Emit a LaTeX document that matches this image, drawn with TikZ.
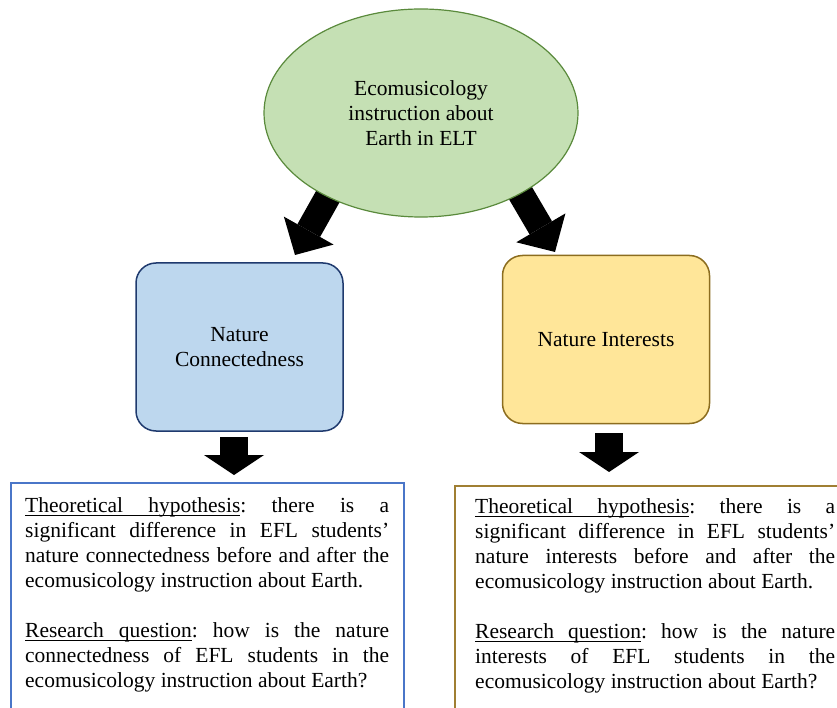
\documentclass[tikz,border=0pt]{standalone}
\usepackage{fontspec}
\setmainfont{Liberation Serif}
\usetikzlibrary{shapes.geometric,arrows.meta,backgrounds}
\definecolor{ellfill}{HTML}{C5E0B4}
\definecolor{elldraw}{HTML}{5A8A3C}
\definecolor{ncfill}{HTML}{BDD7EE}
\definecolor{ncdraw}{HTML}{1F3A6E}
\definecolor{nifill}{HTML}{FFE699}
\definecolor{nidraw}{HTML}{8C6D1F}
\definecolor{hypblue}{HTML}{4A76C8}
\definecolor{hypgold}{HTML}{A07F33}
\frenchspacing
% underlined word and stretchable underlined space
\newcommand\ulword[1]{\leavevmode\setbox0\hbox{#1}\rlap{\rule[-3.6pt]{\wd0}{0.9pt}}\box0}
\newcommand\ulgap{\leaders\hrule height -2.7pt depth 3.6pt\hskip\fontdimen2\font plus\fontdimen3\font minus\fontdimen4\font}

\begin{document}
\begin{tikzpicture}[x=1pt,y=-1pt,font=\fontsize{21.5}{25}\selectfont\frenchspacing]
	\tikzstyle{ell}=[ellipse,draw=elldraw,fill=ellfill,line width=1.2pt,minimum width=314pt,minimum height=208pt,align=center]
	\tikzstyle{box}=[rectangle,rounded corners=20pt,line width=1.5pt,minimum width=207pt,minimum height=168pt,align=center]
	\tikzstyle{txt}=[anchor=north west,text width=364pt,align=justify,inner sep=0pt]
	\tikzstyle{slant}=[line width=26pt,-{Triangle[width=57pt,length=28pt,line width=0pt]}]
	\tikzstyle{down}=[line width=28pt,-{Triangle[width=60pt,length=20pt,line width=0pt]}]

	\useasboundingbox (0,0) rectangle (837,708);
	\clip (0,0) rectangle (837,708);

	\node [ell] (topic) at (421,113) {Ecomusicology\\instruction about\\Earth in ELT};
	\node [box,draw=ncdraw,fill=ncfill] (nc) at (239.5,347) {Nature\\Connectedness};
	\node [box,draw=nidraw,fill=nifill] (ni) at (606,339.5) {Nature Interests};

	\coordinate (nc tip) at (295,255);
	\coordinate (ni tip) at (555,252);
	\begin{scope}[on background layer]
		\draw[slant,shorten <=-12pt] (topic.222) -- (nc tip);
		\draw[slant,shorten <=-12pt] (topic.321) -- (ni tip);
	\end{scope}

	\coordinate (nc out) at (234,437);
	\coordinate (nc in) at (234,475);
	\coordinate (ni out) at (609,433);
	\coordinate (ni in) at (609,472);
	\draw[down] (nc out) -- (nc in);
	\draw[down] (ni out) -- (ni in);

	% hypothesis boxes, cut off at the page edge
	\draw[hypblue,line width=1.2pt] (11,483) rectangle (404,740);
	\draw[hypgold,line width=1.2pt] (455,486) rectangle (870,740);

	\node [txt] (h1) at (25,497) {\ulword{Theoretical}\ulgap\ulword{hypothesis}: there is a\linebreak
		significant difference in EFL students’\linebreak
		nature connectedness before and after the\linebreak
		ecomusicology instruction about Earth.\par\vspace{\baselineskip}
		\ulword{Research}\ulgap\ulword{question}: how is the nature\linebreak
		connectedness of EFL students in the\linebreak
		ecomusicology instruction about Earth?};
	\node [txt,text width=360pt] (h2) at (475,498) {\ulword{Theoretical}\ulgap\ulword{hypothesis}: there is a\linebreak
		significant difference in EFL students’\linebreak
		nature interests before and after the\linebreak
		ecomusicology instruction about Earth.\par\vspace{\baselineskip}
		\ulword{Research}\ulgap\ulword{question}: how is the nature\linebreak
		interests of EFL students in the\linebreak
		ecomusicology instruction about Earth?};
\end{tikzpicture}
\end{document}
